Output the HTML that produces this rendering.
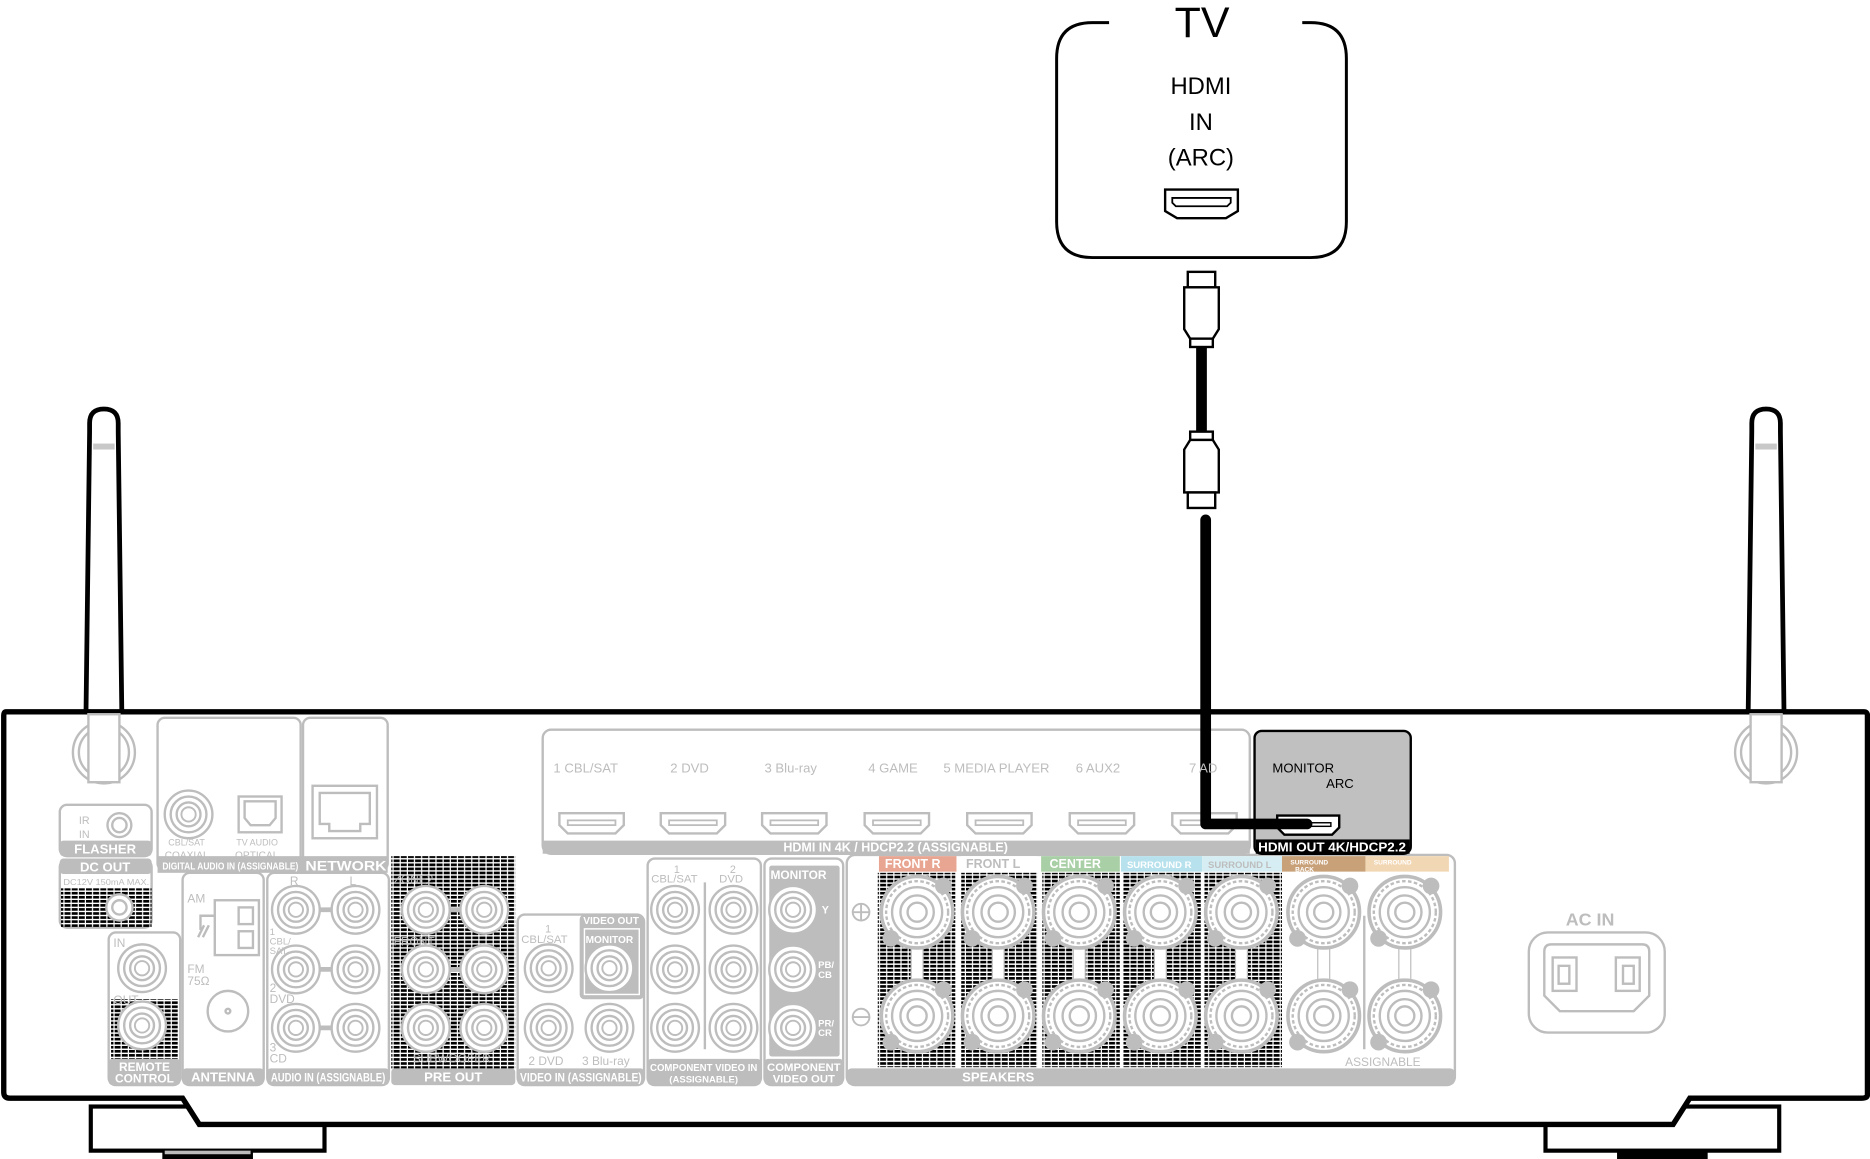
<!DOCTYPE html>
<html><head><meta charset="utf-8"><style>
html,body{margin:0;padding:0;background:#fff;}
svg{display:block;}
text{font-family:"Liberation Sans",sans-serif;}
</style></head><body>
<svg width="1870" height="1159" viewBox="0 0 1568 972" xmlns="http://www.w3.org/2000/svg">
<defs>
<pattern id="st" width="6" height="3.4" patternUnits="userSpaceOnUse">
<rect x="0" y="0" width="5" height="2.2" fill="#000"/>
</pattern>
<g id="rca"><circle r="20" fill="#fff" stroke="#bdbdbd" stroke-width="2"/><circle r="15" fill="none" stroke="#bdbdbd" stroke-width="2"/><circle r="10" fill="none" stroke="#bdbdbd" stroke-width="2"/><circle r="6" fill="none" stroke="#bdbdbd" stroke-width="1.6"/></g>
<g id="hp"><path d="M-27,-9 h54 v10 l-7,7 h-40 l-7,-7 z" fill="#fff" stroke="#bdbdbd" stroke-width="2"/><rect x="-20" y="-3" width="40" height="4" fill="none" stroke="#bdbdbd" stroke-width="1.5"/></g>
<g id="spk"><circle r="30" fill="#fff" stroke="#bdbdbd" stroke-width="3"/><circle r="26" fill="none" stroke="#bdbdbd" stroke-width="2" stroke-dasharray="3 2"/><circle r="21" fill="none" stroke="#bdbdbd" stroke-width="2"/><circle r="14" fill="none" stroke="#bdbdbd" stroke-width="2"/><circle r="8" fill="none" stroke="#bdbdbd" stroke-width="2"/><circle cx="22" cy="-22" r="7" fill="#bdbdbd"/><circle cx="-22" cy="22" r="7" fill="#bdbdbd"/></g>
</defs>

<!-- TV -->
<path d="M930,19 H916 Q886,19 886,49 V186 Q886,216 916,216 H1099 Q1129,216 1129,186 V49 Q1129,19 1099,19 H1092" fill="none" stroke="#000" stroke-width="2.5"/>
<text x="1008" y="31" font-size="36" text-anchor="middle">TV</text>
<text x="1007" y="79" font-size="20" text-anchor="middle">HDMI</text>
<text x="1007" y="109" font-size="20" text-anchor="middle">IN</text>
<text x="1007" y="139" font-size="20" text-anchor="middle">(ARC)</text>
<path d="M977,159 h61 v18 l-10,6 h-41 l-10,-6 z" fill="#fff" stroke="#000" stroke-width="2"/>
<path d="M983,166 h49 v4 l-3,3 h-43 l-3,-3 z" fill="none" stroke="#000" stroke-width="1.5"/>

<!-- cable -->
<rect x="996" y="228" width="23" height="13" fill="#fff" stroke="#000" stroke-width="2"/>
<path d="M993,241 h29 v35 l-5,8 h-19 l-5,-8 z" fill="#fff" stroke="#000" stroke-width="2"/>
<rect x="998" y="284" width="19" height="7" fill="#fff" stroke="#000" stroke-width="2"/>
<rect x="1003" y="291" width="9" height="71" fill="#000"/>
<rect x="998" y="362" width="19" height="7" fill="#fff" stroke="#000" stroke-width="2"/>
<path d="M998,369 h19 l5,8 v36 h-29 v-36 z" fill="#fff" stroke="#000" stroke-width="2"/>
<rect x="996" y="413" width="23" height="13" fill="#fff" stroke="#000" stroke-width="2"/>

<!-- antennas -->
<path d="M72,596 L75,362 V355 Q75,343 87,343 Q99,343 99,355 V362 L102,596" fill="#fff" stroke="#000" stroke-width="4"/>
<rect x="78" y="372" width="18" height="5" fill="#c8c8c8"/>
<path d="M1466,596 L1469,362 V355 Q1469,343 1481,343 Q1493,343 1493,355 V362 L1496,596" fill="#fff" stroke="#000" stroke-width="4"/>
<rect x="1472" y="372" width="18" height="5" fill="#c8c8c8"/>

<!-- feet -->
<rect x="76" y="928" width="196" height="37" fill="#fff" stroke="#000" stroke-width="3.5"/>
<rect x="136" y="964" width="76" height="8" fill="#000"/><rect x="138" y="965" width="72" height="3" fill="#bbb"/>
<rect x="1296" y="928" width="196" height="37" fill="#fff" stroke="#000" stroke-width="3.5"/>
<rect x="1356" y="964" width="76" height="8" fill="#000"/>

<!-- body -->
<path d="M5,597 H1563 Q1566,597 1566,600 V918 Q1566,921 1561,921 H1417 L1403,943 H167 L153,921 H8 Q3,921 3,916 V600 Q3,597 5,597 Z" fill="#fff" stroke="#000" stroke-width="4.5"/>

<g stroke="#bdbdbd" stroke-width="2" fill="none">
<!-- antenna bases -->
<circle cx="87" cy="631" r="26" fill="#fff"/><circle cx="87" cy="631" r="21"/>
<rect x="74" y="599" width="26" height="57" fill="#fff"/>
<circle cx="1481" cy="631" r="26" fill="#fff"/><circle cx="1481" cy="631" r="21"/>
<rect x="1468" y="599" width="26" height="57" fill="#fff"/>

<!-- flasher -->
<rect x="50" y="675" width="77" height="43" rx="6"/>
<circle cx="100" cy="692" r="10"/><circle cx="100" cy="692" r="6"/>
<!-- DC out -->
<rect x="50" y="721" width="77" height="57" rx="6"/>
<!-- remote -->
<rect x="91" y="782" width="60" height="128" rx="6"/>
<!-- digital + network -->
<rect x="132" y="602" width="120" height="128" rx="6"/>
<rect x="254" y="602" width="71" height="128" rx="6"/>
<rect x="262" y="659" width="54" height="44"/>
<path d="M268,665 h42 v26 h-8 v6 h-26 v-6 h-8 z"/>
<rect x="200" y="668" width="36" height="30"/>
<path d="M205,672 h26 v14 l-5,6 h-16 l-5,-6 z"/>
<!-- antenna -->
<rect x="153" y="732" width="68" height="178" rx="6"/>
<circle cx="191" cy="848" r="17"/><circle cx="191" cy="848" r="2"/>
<rect x="180" y="755" width="37" height="46"/><rect x="200" y="761" width="12" height="14"/><rect x="200" y="781" width="12" height="14"/>
<path d="M180,768 h-12 v12 M171,776 l-5,10 M175,776 l-5,10"/>
<!-- audio in -->
<rect x="224" y="732" width="102" height="178" rx="6"/>
<!-- video in -->
<rect x="434" y="767" width="106" height="143" rx="6"/>
<!-- component -->
<rect x="543" y="720" width="95" height="190" rx="6"/>
<line x1="591" y1="740" x2="591" y2="880"/>
<rect x="641" y="720" width="66" height="190" rx="6"/>
<!-- hdmi panel -->
<rect x="455" y="612" width="593" height="104" rx="7"/>
<!-- speakers -->
<rect x="710" y="717" width="510" height="193" rx="7"/>
<line x1="1144" y1="768" x2="1144" y2="880"/>
<!-- AC in -->
<rect x="1282" y="782" width="114" height="84" rx="16"/>
<path d="M1295,798 Q1295,792 1301,792 H1377 Q1383,792 1383,798 V835 L1370,848 H1308 L1295,835 Z"/>
<rect x="1302" y="803" width="20" height="28"/><rect x="1307" y="810" width="9" height="15"/>
<rect x="1355" y="803" width="20" height="28"/><rect x="1361" y="810" width="9" height="15"/>
</g>

<!-- gray fills / label bars -->
<g fill="#bdbdbd">
<rect x="50" y="705" width="77" height="13" rx="3"/>
<rect x="50" y="720" width="77" height="13" rx="3"/>
<rect x="132" y="718" width="193" height="14"/>
<rect x="153" y="896" width="68" height="14" rx="3"/>
<rect x="224" y="896" width="102" height="14" rx="3"/>
<rect x="91" y="888" width="60" height="22" rx="3"/>
<rect x="328" y="896" width="104" height="14" rx="3"/>
<rect x="434" y="896" width="106" height="14" rx="3"/>
<rect x="543" y="888" width="95" height="22" rx="3"/>
<rect x="641" y="888" width="66" height="22" rx="3"/>
<rect x="645" y="726" width="59" height="160" rx="2"/>
<rect x="486" y="767" width="54" height="71" rx="4"/>
<rect x="455" y="705" width="593" height="11"/>
<rect x="710" y="896" width="510" height="14" rx="4"/>
</g>
<rect x="490" y="779" width="46" height="55" fill="#bdbdbd" stroke="#fff" stroke-width="1.2"/>

<!-- stipple areas -->
<rect x="51" y="745" width="76" height="33" fill="url(#st)"/>
<rect x="93" y="838" width="56" height="50" fill="url(#st)"/>
<rect x="328" y="718" width="104" height="178" fill="url(#st)"/>
<rect x="736" y="732" width="65" height="163" fill="url(#st)"/>
<rect x="806" y="732" width="64" height="163" fill="url(#st)"/>
<rect x="874" y="732" width="65" height="163" fill="url(#st)"/>
<rect x="942" y="732" width="65" height="163" fill="url(#st)"/>
<rect x="1010" y="732" width="65" height="163" fill="url(#st)"/>

<!-- speaker color labels -->
<rect x="737" y="718" width="65" height="13" fill="#e8a592"/>
<rect x="806" y="718" width="64" height="13" fill="#fff"/>
<rect x="873" y="718" width="66" height="13" fill="#a9cfa6"/>
<rect x="940" y="718" width="68" height="13" fill="#b7e1ec"/>
<rect x="1008" y="718" width="67" height="13" fill="#d6eef3"/>
<rect x="1075" y="718" width="70" height="13" fill="#c8a179"/>
<rect x="1145" y="718" width="70" height="13" fill="#f2d7b4"/>

<!-- DC out jack -->
<circle cx="100" cy="761" r="11" fill="#fff" stroke="#bdbdbd" stroke-width="2"/><circle cx="100" cy="761" r="6" fill="none" stroke="#bdbdbd" stroke-width="2"/>

<!-- RCA jacks -->
<use href="#rca" x="119" y="812"/><use href="#rca" x="119" y="860"/>
<use href="#rca" x="158" y="683"/>
<g stroke="#bdbdbd" stroke-width="4"><line x1="248" y1="763" x2="298" y2="763"/><line x1="248" y1="813" x2="298" y2="813"/><line x1="248" y1="862" x2="298" y2="862"/><line x1="357" y1="763" x2="406" y2="763"/><line x1="357" y1="813" x2="406" y2="813"/></g>
<use href="#rca" x="248" y="763"/><use href="#rca" x="298" y="763"/>
<use href="#rca" x="248" y="813"/><use href="#rca" x="298" y="813"/>
<use href="#rca" x="248" y="862"/><use href="#rca" x="298" y="862"/>
<use href="#rca" x="357" y="763"/><use href="#rca" x="406" y="763"/>
<use href="#rca" x="357" y="813"/><use href="#rca" x="406" y="813"/>
<use href="#rca" x="357" y="862"/><use href="#rca" x="406" y="862"/>
<use href="#rca" x="460" y="812"/><use href="#rca" x="511" y="812"/>
<use href="#rca" x="460" y="862"/><use href="#rca" x="511" y="862"/>
<use href="#rca" x="566" y="763"/><use href="#rca" x="615" y="763"/>
<use href="#rca" x="566" y="813"/><use href="#rca" x="615" y="813"/>
<use href="#rca" x="566" y="862"/><use href="#rca" x="615" y="862"/>
<use href="#rca" x="665" y="763"/><use href="#rca" x="665" y="813"/><use href="#rca" x="665" y="862"/>

<!-- HDMI ports -->
<use href="#hp" x="496" y="691"/><use href="#hp" x="581" y="691"/><use href="#hp" x="666" y="691"/>
<use href="#hp" x="752" y="691"/><use href="#hp" x="838" y="691"/><use href="#hp" x="924" y="691"/><use href="#hp" x="1010" y="691"/>

<!-- speakers -->
<g fill="#fff" stroke="#bdbdbd" stroke-width="1">
<rect x="764" y="790" width="10" height="40"/><rect x="832" y="790" width="10" height="40"/><rect x="900" y="790" width="10" height="40"/><rect x="968" y="790" width="10" height="40"/><rect x="1036" y="790" width="10" height="40"/><rect x="1105" y="790" width="10" height="40"/><rect x="1173" y="790" width="10" height="40"/>
</g>
<use href="#spk" x="769" y="765"/><use href="#spk" x="769" y="852"/>
<use href="#spk" x="837" y="765"/><use href="#spk" x="837" y="852"/>
<use href="#spk" x="905" y="765"/><use href="#spk" x="905" y="852"/>
<use href="#spk" x="973" y="765"/><use href="#spk" x="973" y="852"/>
<use href="#spk" x="1041" y="765"/><use href="#spk" x="1041" y="852"/>
<use href="#spk" x="1110" y="765"/><use href="#spk" x="1110" y="852"/>
<use href="#spk" x="1178" y="765"/><use href="#spk" x="1178" y="852"/>
<g fill="none" stroke="#bdbdbd" stroke-width="1.6"><circle cx="722" cy="765" r="7"/><path d="M715,765h14M722,758v14"/><circle cx="722" cy="853" r="7"/><path d="M715,853h14"/></g>

<!-- Monitor box -->
<rect x="1052" y="613" width="131" height="103" rx="6" fill="#c0c0c0" stroke="#000" stroke-width="2"/>
<rect x="1053" y="704" width="129" height="12" fill="#000"/>
<text x="1117" y="714" font-size="10.5" font-weight="bold" fill="#fff" text-anchor="middle" textLength="124" lengthAdjust="spacingAndGlyphs">HDMI OUT 4K/HDCP2.2</text>
<text x="1067" y="648" font-size="11">MONITOR</text>
<text x="1112" y="661" font-size="11">ARC</text>
<path d="M1071,684 h52 v10 l-6,6 h-40 l-6,-6 z" fill="#fff" stroke="#000" stroke-width="2"/>
<rect x="1078" y="690" width="38" height="3" fill="none" stroke="#000" stroke-width="1.2"/>

<!-- cable down to HDMI OUT -->
<path d="M1011,436 V691 H1096" fill="none" stroke="#000" stroke-width="9" stroke-linecap="round" stroke-linejoin="round"/>

<!-- text labels (gray) -->
<g fill="#bdbdbd" font-size="11">
<text x="464" y="648">1 CBL/SAT</text><text x="562" y="648">2 DVD</text><text x="641" y="648">3 Blu-ray</text>
<text x="728" y="648">4 GAME</text><text x="791" y="648">5 MEDIA PLAYER</text><text x="902" y="648">6 AUX2</text><text x="997" y="648">7 AD</text>
<text x="66" y="691" font-size="9">IR</text><text x="66" y="703" font-size="9">IN</text>
<text x="141" y="709" font-size="7.5">CBL/SAT</text><text x="198" y="709" font-size="7.5">TV AUDIO</text>
<text x="138" y="720" font-size="8.5">COAXIAL</text><text x="197" y="720" font-size="8.5">OPTICAL</text>
<text x="53" y="742" font-size="7" textLength="72" lengthAdjust="spacingAndGlyphs">DC12V 150mA MAX.</text>
<text x="95" y="794" font-size="10">IN</text><text x="95" y="842" font-size="10">OUT</text>
<text x="157" y="757" font-size="10">AM</text><text x="157" y="816" font-size="10">FM</text><text x="157" y="826" font-size="10">75Ω</text>
<text x="226" y="784" font-size="8">1</text><text x="226" y="792" font-size="8">CBL/</text><text x="226" y="800" font-size="8">SAT</text>
<text x="226" y="832" font-size="10">2</text><text x="226" y="841" font-size="10">DVD</text>
<text x="226" y="882" font-size="10">3</text><text x="226" y="891" font-size="10">CD</text>
<text x="243" y="742" font-size="10">R</text><text x="293" y="742" font-size="10">L</text>
<text x="330" y="741" font-size="10">ZONE2</text><text x="330" y="793" font-size="10">FRONT</text>
<text x="346" y="891" font-size="10">SUBWOOFER</text>
<text x="437" y="791" font-size="9.5">CBL/SAT</text><text x="457" y="782" font-size="9">1</text>
<text x="443" y="893" font-size="10">2 DVD</text><text x="488" y="893" font-size="10">3 Blu-ray</text>
<text x="546" y="740" font-size="9.5">CBL/SAT</text><text x="565" y="732" font-size="9">1</text>
<text x="603" y="740" font-size="9.5">DVD</text><text x="612" y="732" font-size="9">2</text>
<text x="1128" y="894" font-size="10">ASSIGNABLE</text>
<text x="1313" y="776" font-size="15" font-weight="bold">AC IN</text>
</g>
<g fill="#fff" font-weight="bold">
<text x="88" y="716" font-size="11" text-anchor="middle">FLASHER</text>
<text x="88" y="731" font-size="11" text-anchor="middle">DC OUT</text>
<text x="121" y="898" font-size="10" text-anchor="middle">REMOTE</text>
<text x="121" y="908" font-size="10" text-anchor="middle">CONTROL</text>
<text x="187" y="907" font-size="11" text-anchor="middle">ANTENNA</text>
<text x="227" y="907" font-size="10" textLength="96" lengthAdjust="spacingAndGlyphs">AUDIO IN (ASSIGNABLE)</text>
<text x="380" y="907" font-size="11" text-anchor="middle">PRE OUT</text>
<text x="436" y="907" font-size="10" textLength="102" lengthAdjust="spacingAndGlyphs">VIDEO IN (ASSIGNABLE)</text>
<text x="590" y="898" font-size="8.5" text-anchor="middle" textLength="90" lengthAdjust="spacingAndGlyphs">COMPONENT VIDEO IN</text>
<text x="590" y="908" font-size="8" text-anchor="middle">(ASSIGNABLE)</text>
<text x="674" y="898" font-size="9.5" text-anchor="middle">COMPONENT</text>
<text x="674" y="908" font-size="9.5" text-anchor="middle">VIDEO OUT</text>
<text x="136" y="729" font-size="8.5" textLength="114" lengthAdjust="spacingAndGlyphs">DIGITAL AUDIO IN (ASSIGNABLE)</text>
<text x="256" y="730" font-size="11.5" textLength="68" lengthAdjust="spacingAndGlyphs">NETWORK</text>
<text x="751" y="714" font-size="10.5" text-anchor="middle">HDMI IN  4K / HDCP2.2 (ASSIGNABLE)</text>
<text x="837" y="907" font-size="11" text-anchor="middle">SPEAKERS</text>
<text x="646" y="737" font-size="10">MONITOR</text>
<text x="689" y="766" font-size="9">Y</text>
<text x="686" y="812" font-size="8">PB/</text><text x="686" y="820" font-size="8">CB</text>
<text x="686" y="861" font-size="8">PR/</text><text x="686" y="869" font-size="8">CR</text>
<text x="489" y="775" font-size="8.5">VIDEO OUT</text>
<text x="491" y="791" font-size="8.5">MONITOR</text>
<text x="742" y="728" font-size="10.5">FRONT R</text>
<text x="880" y="728" font-size="10.5">CENTER</text>
<text x="945" y="728" font-size="8">SURROUND R</text>
<text x="1082" y="725" font-size="5.5">SURROUND</text><text x="1086" y="731" font-size="5.5">BACK</text>
</g>
<g fill="#bdbdbd" font-weight="bold">
<text x="810" y="728" font-size="10.5">FRONT L</text>
<text x="1013" y="728" font-size="8">SURROUND L</text>
<text x="1152" y="725" font-size="5.5" fill="#fff">SURROUND</text>
</g>
</svg>
</body></html>
